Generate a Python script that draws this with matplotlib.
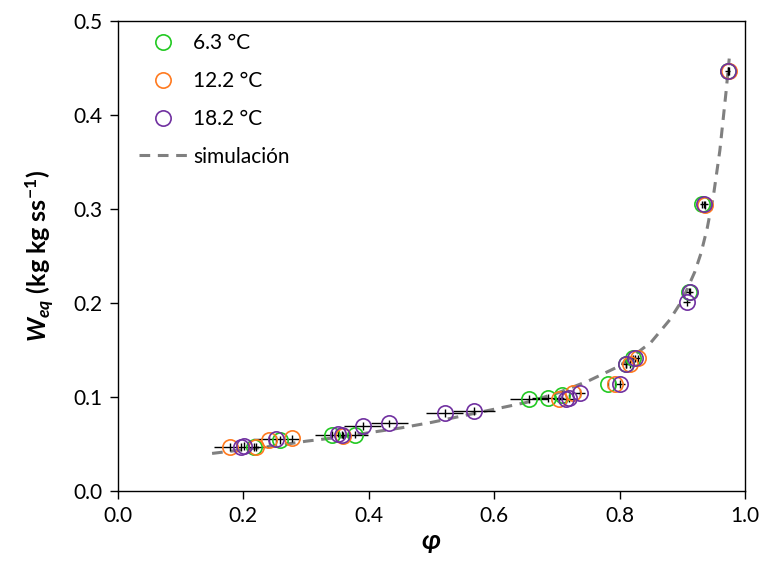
import matplotlib
matplotlib.use("Agg")
import matplotlib.pyplot as plt
from matplotlib.ticker import MultipleLocator, FormatStrFormatter

plt.rcParams['font.family'] = ['Lato', 'DejaVu Sans']
plt.rcParams['mathtext.fontset'] = 'custom'
plt.rcParams['mathtext.rm'] = 'Lato'
plt.rcParams['mathtext.it'] = 'Lato:italic'
plt.rcParams['mathtext.bf'] = 'Lato:bold'
plt.rcParams['mathtext.bfit'] = 'Lato:bold:italic'

# Experimental sorption data: water activity (phi) and equilibrium moisture
phi_63 = [0.217, 0.258, 0.341, 0.378, 0.656, 0.686, 0.709, 0.782, 0.811, 0.822, 0.911, 0.932, 0.973]
w_63 = [0.047, 0.054, 0.060, 0.060, 0.098, 0.099, 0.102, 0.114, 0.135, 0.141, 0.212, 0.305, 0.447]
xerr_63 = [0.0, 0.0, 0.0, 0.0, 0.030, 0.025, 0.0, 0.0, 0.0, 0.0, 0.0, 0.0, 0.0]

phi_122 = [0.179, 0.220, 0.241, 0.278, 0.359, 0.703, 0.726, 0.793, 0.817, 0.830, 0.937, 0.975]
w_122 = [0.047, 0.047, 0.054, 0.056, 0.059, 0.098, 0.104, 0.114, 0.135, 0.141, 0.304, 0.447]
xerr_122 = [0.0, 0.0, 0.0, 0.0, 0.0, 0.0, 0.0, 0.0, 0.0, 0.0, 0.0, 0.0]

phi_182 = [0.196, 0.201, 0.252, 0.351, 0.357, 0.390, 0.433, 0.521, 0.568, 0.714, 0.720,
           0.737, 0.800, 0.811, 0.825, 0.907, 0.912, 0.935, 0.973]
w_182 = [0.047, 0.048, 0.055, 0.061, 0.060, 0.069, 0.072, 0.083, 0.085, 0.098, 0.099,
         0.104, 0.114, 0.135, 0.141, 0.201, 0.212, 0.305, 0.447]
xerr_182 = [0.043, 0.0, 0.037, 0.0, 0.042, 0.030, 0.029, 0.029, 0.033, 0.020, 0.0,
            0.008, 0.008, 0.008, 0.008, 0.006, 0.006, 0.006, 0.004]

# Simulated isotherm
phi_sim = [0.15, 0.20, 0.25, 0.30, 0.35, 0.40, 0.45, 0.50, 0.55, 0.60, 0.65, 0.70,
           0.75, 0.80, 0.85, 0.88, 0.90, 0.92, 0.93, 0.94, 0.95, 0.96, 0.97, 0.975]
w_sim = [0.040, 0.044, 0.048, 0.053, 0.057, 0.062, 0.067, 0.073, 0.080, 0.087, 0.094, 0.104,
         0.117, 0.133, 0.158, 0.182, 0.203, 0.233, 0.253, 0.280, 0.315, 0.362, 0.425, 0.460]

series = [
    ("6.3 °C", phi_63, w_63, xerr_63, "#22C922"),
    ("12.2 °C", phi_122, w_122, xerr_122, "#FF7A1F"),
    ("18.2 °C", phi_182, w_182, xerr_182, "#7030A0"),
]

fig = plt.figure(figsize=(7.64, 5.67), dpi=100)
ax = fig.add_axes([0.1545, 0.134, 0.8205, 0.829])

for label, x, y, xe, col in series:
    ax.errorbar(x, y, xerr=xe, yerr=[0.004] * len(x), fmt='none',
                ecolor='black', elinewidth=1.0, capsize=0, zorder=2)
for label, x, y, xe, col in series:
    ax.plot(x, y, linestyle='none', marker='o', ms=11, mfc='none',
            mec=col, mew=1.2, label=label, zorder=3)

ax.plot(phi_sim, w_sim, color='#808080', lw=2.2, linestyle=(0, (3.5, 2.5)),
        label='simulación', zorder=1)

ax.set_xlim(0, 1.0)
ax.set_ylim(0, 0.5)
ax.xaxis.set_major_locator(MultipleLocator(0.2))
ax.yaxis.set_major_locator(MultipleLocator(0.1))
ax.xaxis.set_major_formatter(FormatStrFormatter('%.1f'))
ax.yaxis.set_major_formatter(FormatStrFormatter('%.1f'))
ax.tick_params(direction='out', length=6, width=1, labelsize=15, pad=5)
for s in ax.spines.values():
    s.set_linewidth(1.0)
    s.set_color('black')

ax.set_xlabel(r'$\mathbfit{\varphi}$', fontsize=19, labelpad=3)
ax.set_ylabel(r'$\mathbfit{W}_{\mathbfit{eq}}$ (kg kg ss$^{\mathbf{-1}}$)',
              fontsize=18, fontweight='bold', labelpad=13)

ax.legend(loc='upper left', frameon=False, fontsize=15, handlelength=2.3,
          labelspacing=0.85, handletextpad=0.3, borderaxespad=0.2,
          bbox_to_anchor=(0.013, 1.0))

fig.savefig('out.png', dpi=100)
